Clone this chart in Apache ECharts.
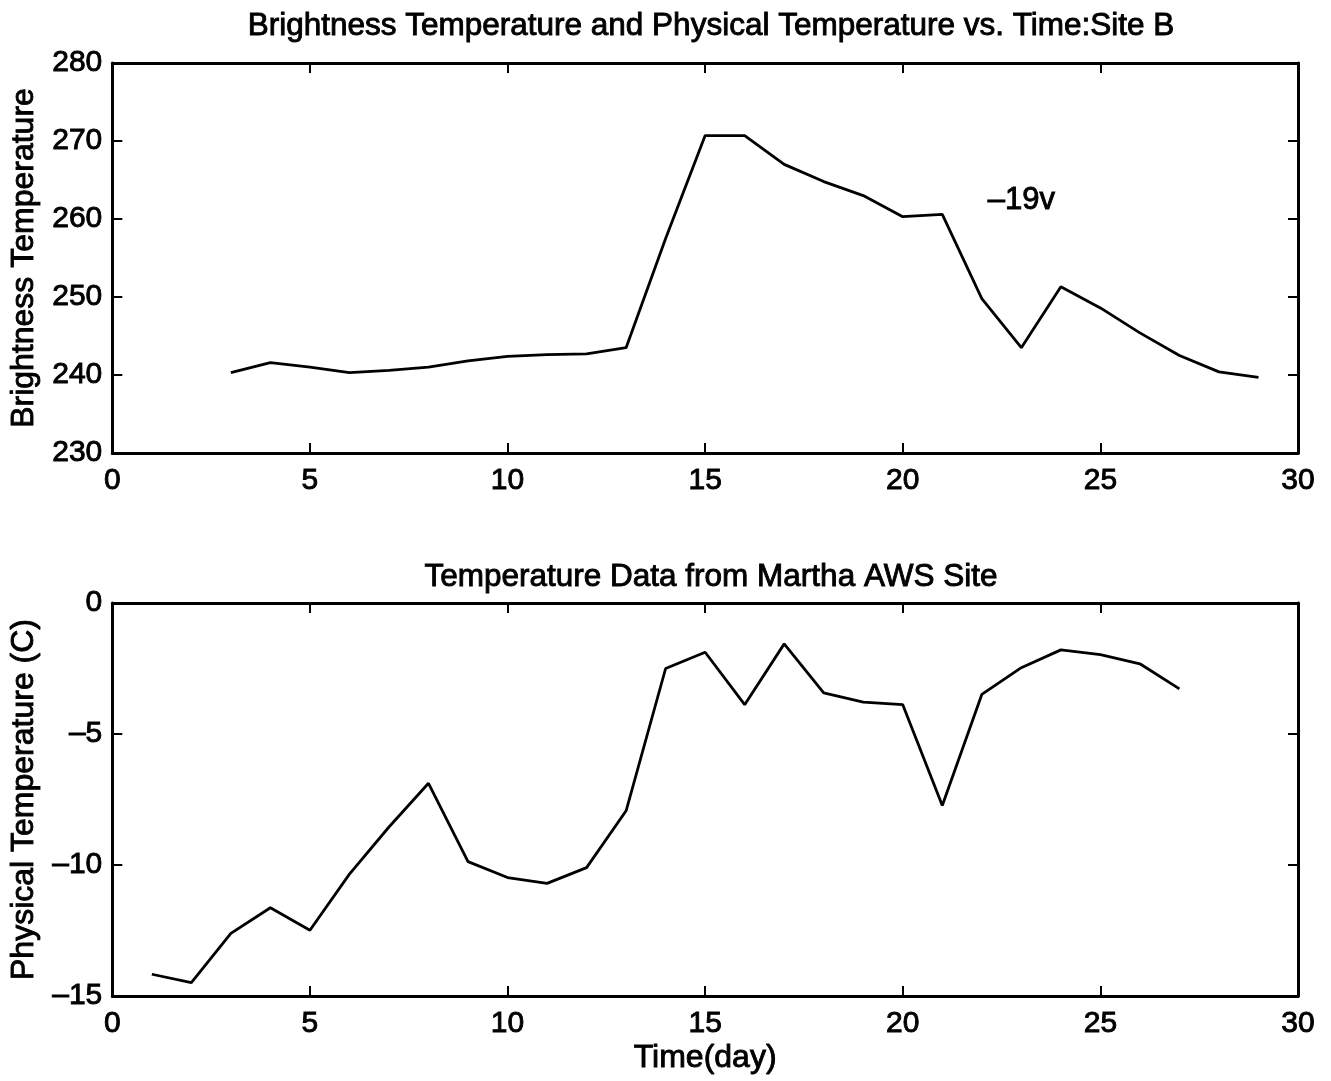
<!DOCTYPE html>
<html>
<head>
<meta charset="utf-8">
<script src="https://cdn.jsdelivr.net/npm/echarts@6/dist/echarts.min.js"></script>
<style>
  html, body { margin: 0; padding: 0; background: #fff; }
  #chart { width: 1331px; height: 1081px; }
</style>
</head>
<body>
<div id="chart"></div>
<script>
// Brightness temperature (-19v channel), days 3..29
const tbDays = [3, 4, 5, 6, 7, 8, 9, 10, 11, 12, 13, 14, 15, 16, 17, 18, 19, 20, 21, 22, 23, 24, 25, 26, 27, 28, 29];
const tbValues = [240.3, 241.6, 241.0, 240.3, 240.6, 241.0, 241.8, 242.4, 242.6, 242.7, 243.5, 257.5, 270.7, 270.7, 267.0, 264.8, 263.0, 260.3, 260.6, 249.8, 243.5, 251.3, 248.6, 245.4, 242.5, 240.4, 239.7];

// Physical temperature at the Martha AWS site, days 1..27
const awsDays = [1, 2, 3, 4, 5, 6, 7, 8, 9, 10, 11, 12, 13, 14, 15, 16, 17, 18, 19, 20, 21, 22, 23, 24, 25, 26, 27];
const awsValues = [-14.17, -14.49, -12.61, -11.63, -12.49, -10.35, -8.55, -6.88, -9.87, -10.48, -10.70, -10.10, -7.93, -2.50, -1.88, -3.88, -1.56, -3.43, -3.78, -3.88, -7.73, -3.49, -2.47, -1.79, -1.97, -2.32, -3.28];

// Text annotation placed in data space of the upper panel
const channelLabel = '–19v';
const channelLabelAt = [23.0, 262.4];

const titles = [
  'Brightness Temperature and Physical Temperature vs. Time:Site B',
  'Temperature Data from Martha AWS Site'
];

const FONT = '"Liberation Sans", Arial, Helvetica, sans-serif';
const black = '#000';
// slight stroke to give the text a heavier, print-like weight
const heavy = { textBorderColor: black, textBorderWidth: 0.9 };

function pairs(xs, ys) { return xs.map((x, i) => [x, ys[i]]); }

// every axis stays on its own edge of the box (no snapping to zero)
const frameLine = { show: true, onZero: false, lineStyle: { color: black, width: 3 } };
const innerTick = { show: true, inside: true, length: 10, lineStyle: { color: black, width: 2 } };

function mainX(gridIndex, name) {
  return {
    type: 'value', gridIndex, min: 0, max: 30, interval: 5, position: 'bottom',
    name: name || '', nameLocation: 'middle', nameGap: 46,
    nameTextStyle: Object.assign({ fontFamily: FONT, fontSize: 32, color: black }, heavy),
    axisLine: frameLine, axisTick: innerTick,
    axisLabel: Object.assign({ show: true, fontFamily: FONT, fontSize: 30, color: black, margin: 13 }, heavy),
    splitLine: { show: false }
  };
}
function mirrorX(gridIndex) {
  return {
    type: 'value', gridIndex, min: 0, max: 30, interval: 5, position: 'top',
    axisLine: frameLine, axisTick: innerTick,
    axisLabel: { show: false }, splitLine: { show: false }
  };
}
function mainY(gridIndex, min, max, interval, name) {
  return {
    type: 'value', gridIndex, min, max, interval, position: 'left',
    name, nameLocation: 'middle', nameGap: 64,
    nameTextStyle: Object.assign({ fontFamily: FONT, fontSize: 32, color: black }, heavy),
    axisLine: frameLine, axisTick: innerTick,
    axisLabel: Object.assign({ show: true, fontFamily: FONT, fontSize: 30, color: black, margin: 10,
                 formatter: v => (v < 0 ? '–' + Math.abs(v) : String(v)) }, heavy),
    splitLine: { show: false }
  };
}
function mirrorY(gridIndex, min, max, interval) {
  return {
    type: 'value', gridIndex, min, max, interval, position: 'right',
    axisLine: frameLine, axisTick: innerTick,
    axisLabel: { show: false }, splitLine: { show: false }
  };
}

const chart = echarts.init(document.getElementById('chart'), null, { renderer: 'canvas' });
chart.setOption({
  backgroundColor: '#fff',
  animation: false,
  title: [
    { text: titles[0], left: 706, top: 5, textAlign: 'center',
      textStyle: Object.assign({ fontFamily: FONT, fontSize: 31.5, fontWeight: 'normal', color: black }, heavy) },
    { text: titles[1], left: 706, top: 556, textAlign: 'center',
      textStyle: Object.assign({ fontFamily: FONT, fontSize: 31.5, fontWeight: 'normal', color: black }, heavy) }
  ],
  grid: [
    { left: 108, top: 63, width: 1190, height: 390, show: false },
    { left: 108, top: 603, width: 1190, height: 393, show: false }
  ],
  xAxis: [mainX(0), mirrorX(0), mainX(1, 'Time(day)'), mirrorX(1)],
  yAxis: [
    mainY(0, 230, 280, 10, 'Brightness Temperature'),
    mirrorY(0, 230, 280, 10),
    mainY(1, -15, 0, 5, 'Physical Temperature (C)'),
    mirrorY(1, -15, 0, 5)
  ],
  series: [
    { type: 'line', xAxisIndex: 0, yAxisIndex: 0, data: pairs(tbDays, tbValues),
      showSymbol: false, symbol: 'none', lineStyle: { color: black, width: 2.8 } },
    { type: 'line', xAxisIndex: 2, yAxisIndex: 2, data: pairs(awsDays, awsValues),
      showSymbol: false, symbol: 'none', lineStyle: { color: black, width: 2.8 } },
    { type: 'scatter', xAxisIndex: 0, yAxisIndex: 0, data: [channelLabelAt],
      symbolSize: 0, silent: true, itemStyle: { opacity: 1, color: black },
      label: Object.assign({ show: true, position: 'inside', formatter: channelLabel, opacity: 1,
               fontFamily: FONT, fontSize: 31, color: black }, heavy) }
  ]
});
</script>
</body>
</html>
